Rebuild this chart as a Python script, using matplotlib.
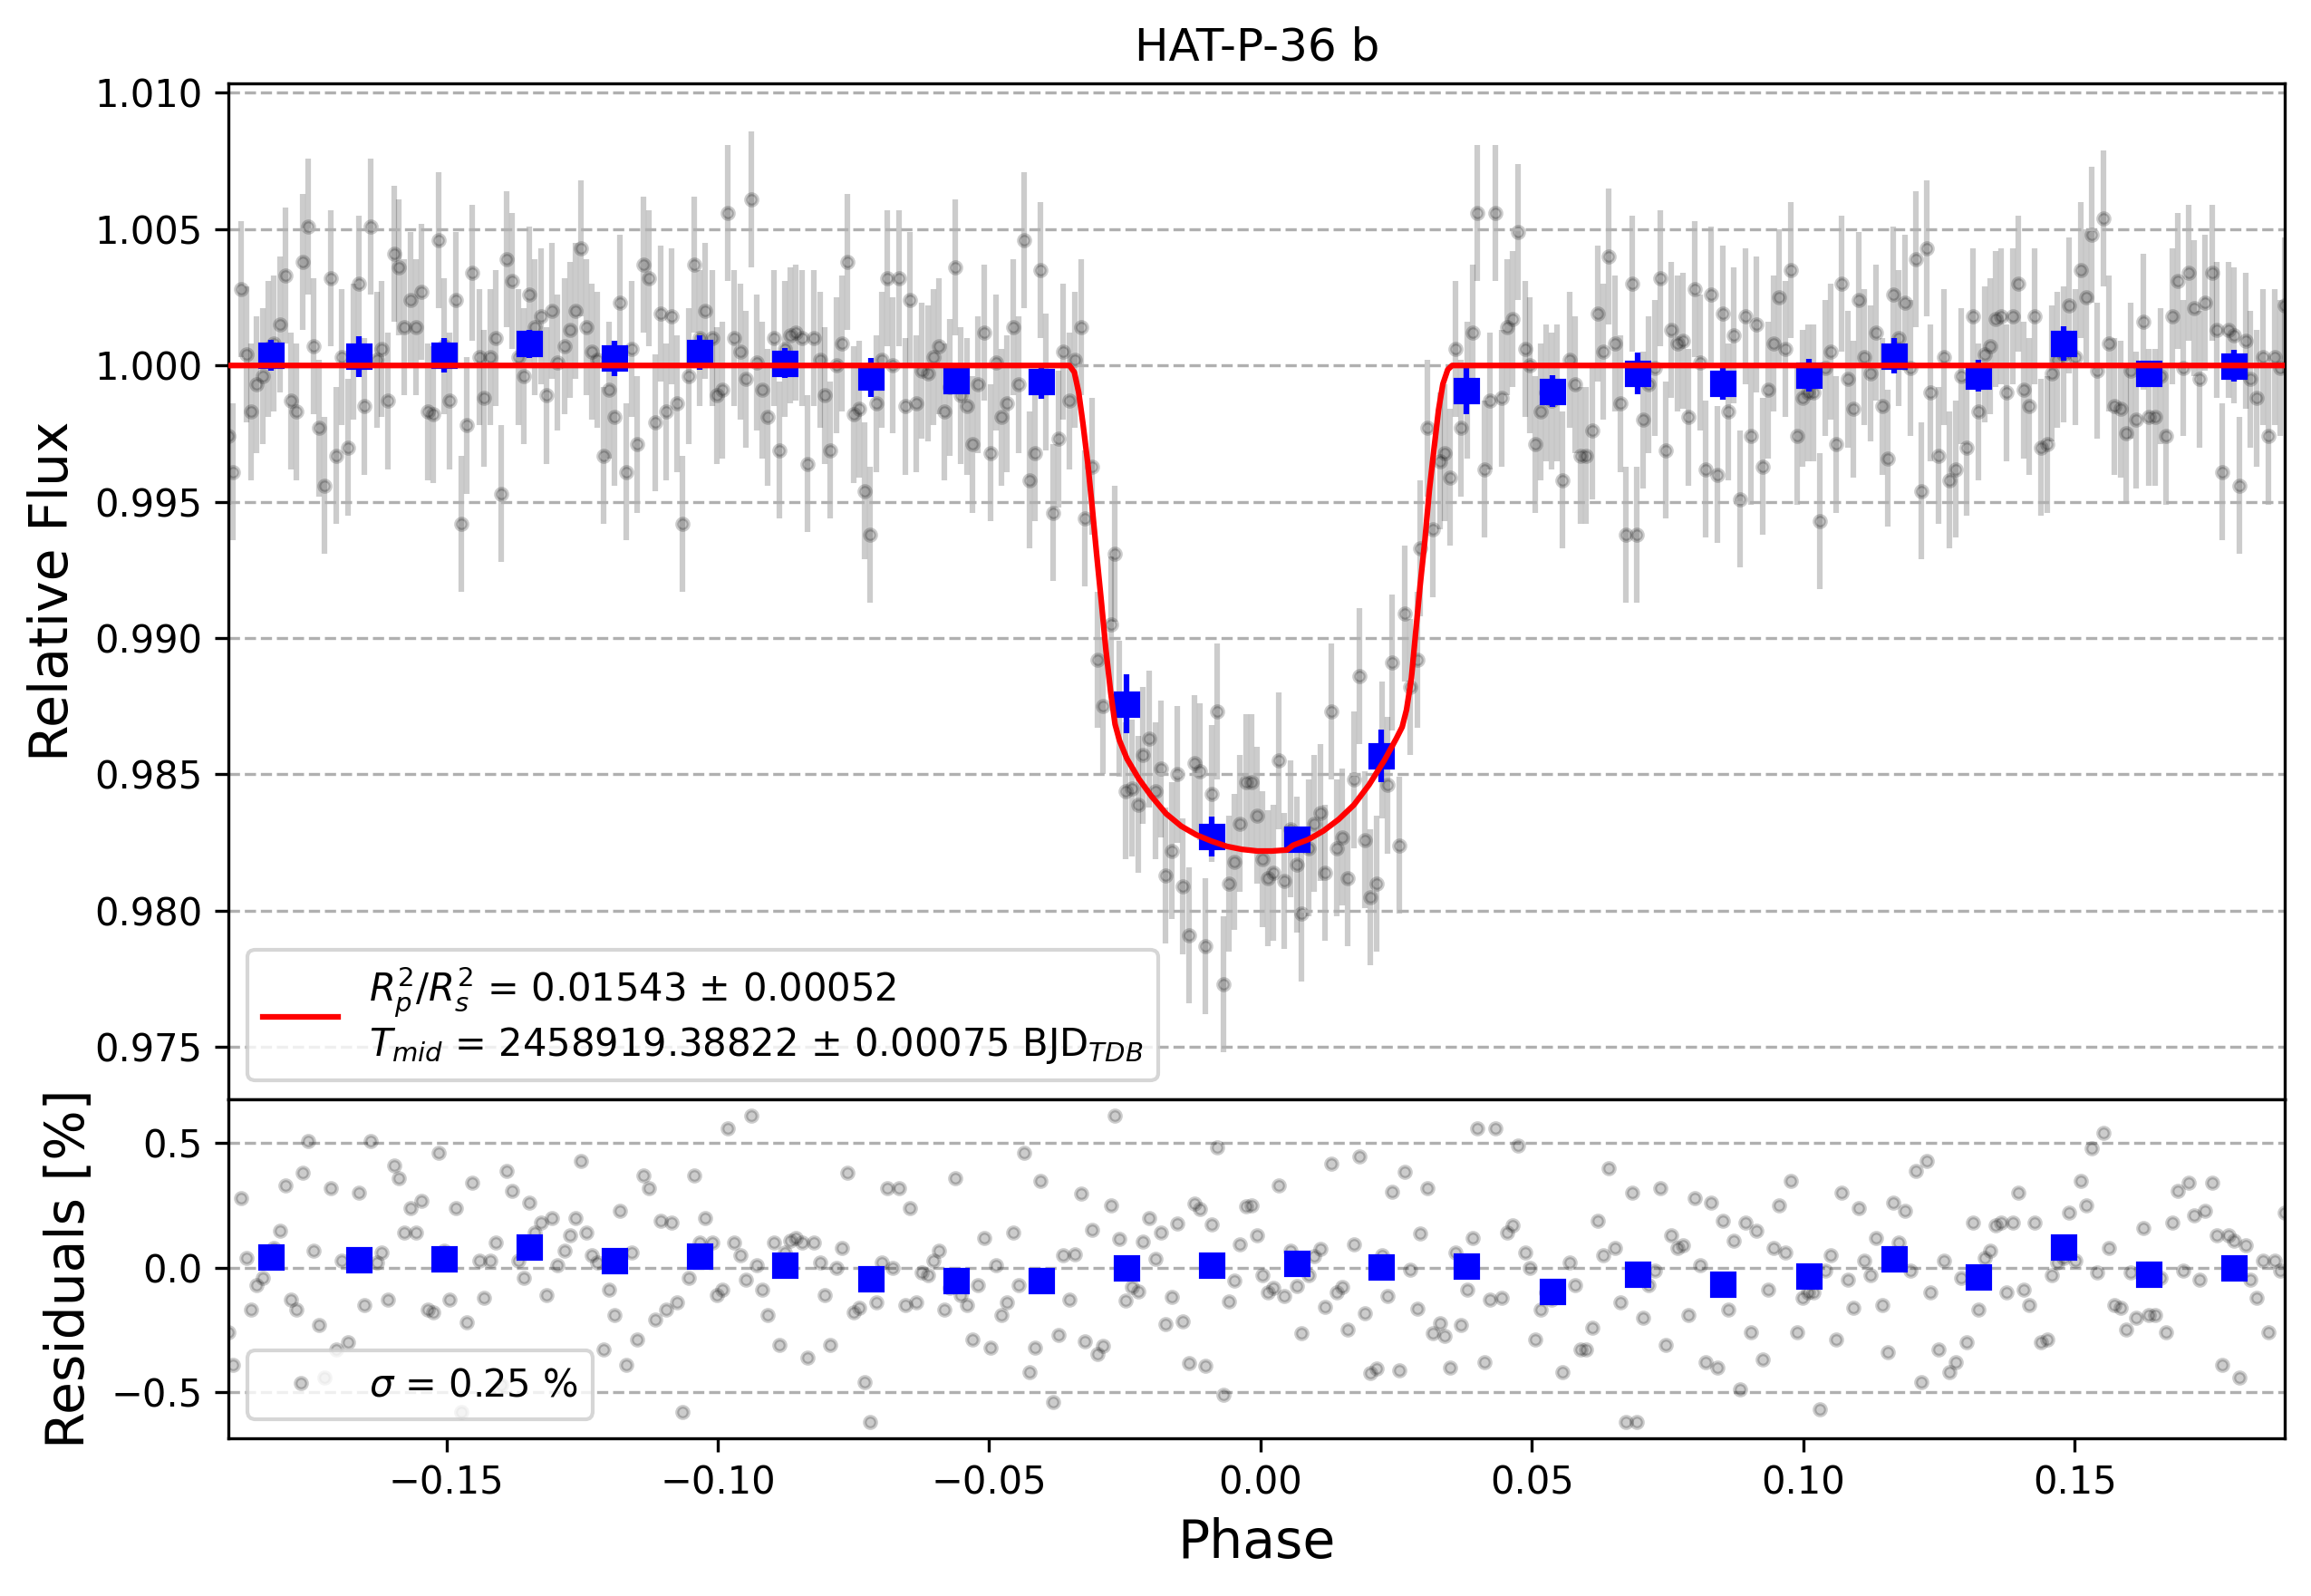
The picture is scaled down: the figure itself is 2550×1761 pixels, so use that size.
import numpy as np
import matplotlib
matplotlib.use('Agg')
import matplotlib.pyplot as plt

target = 'HAT-P-36 b'

# phase-folded light curve
phase = [
    -0.1901, -0.1893, -0.1879, -0.1869, -0.1860, -0.1850, -0.1838, -0.1829, -0.1819, -0.1807,
    -0.1797, -0.1786, -0.1776, -0.1765, -0.1755, -0.1744, -0.1734, -0.1724, -0.1713, -0.1703,
    -0.1693, -0.1681, -0.1672, -0.1662, -0.1651, -0.1639, -0.1628, -0.1619, -0.1608, -0.1597,
    -0.1588, -0.1577, -0.1566, -0.1556, -0.1546, -0.1535, -0.1524, -0.1514, -0.1505, -0.1495,
    -0.1482, -0.1472, -0.1462, -0.1452, -0.1440, -0.1431, -0.1419, -0.1409, -0.1399, -0.1389,
    -0.1379, -0.1368, -0.1357, -0.1347, -0.1337, -0.1326, -0.1315, -0.1305, -0.1295, -0.1283,
    -0.1273, -0.1263, -0.1252, -0.1242, -0.1232, -0.1222, -0.1210, -0.1200, -0.1190, -0.1180,
    -0.1168, -0.1158, -0.1148, -0.1137, -0.1127,
    -0.1116, -0.1106, -0.1095, -0.1085, -0.1075, -0.1065, -0.1053, -0.1043, -0.1034, -0.1023,
    -0.1010, -0.1002, -0.0991, -0.0981, -0.0970, -0.0959, -0.0949, -0.0939, -0.0928, -0.0918,
    -0.0908, -0.0896, -0.0886, -0.0876, -0.0867, -0.0856, -0.0845, -0.0835, -0.0823, -0.0812,
    -0.0803, -0.0793, -0.0782, -0.0771, -0.0761, -0.0750, -0.0739, -0.0729, -0.0719, -0.0708,
    -0.0697, -0.0687, -0.0677, -0.0666, -0.0655, -0.0646, -0.0634, -0.0625, -0.0613, -0.0603,
    -0.0593, -0.0583, -0.0572, -0.0562, -0.0552, -0.0540, -0.0530, -0.0520, -0.0509, -0.0498,
    -0.0488, -0.0478, -0.0468, -0.0456, -0.0446, -0.0436, -0.0426, -0.0415, -0.0405, -0.0395,
    -0.0383, -0.0373, -0.0363, -0.0352, -0.0342,
    -0.0331, -0.0324, -0.0310, -0.0300, -0.0290, -0.0276, -0.0269, -0.0260, -0.0249, -0.0237,
    -0.0225, -0.0217, -0.0205, -0.0194, -0.0183, -0.0175, -0.0163, -0.0154, -0.0143, -0.0132,
    -0.0122, -0.0112, -0.0101, -0.0090, -0.0080, -0.0069, -0.0059, -0.0048, -0.0038, -0.0027,
    -0.0016, -0.0006, 0.0003, 0.0013, 0.0024, 0.0034, 0.0044,
    0.0055, 0.0067, 0.0076, 0.0088, 0.0098, 0.0110, 0.0118, 0.0130, 0.0141, 0.0151,
    0.0161, 0.0172, 0.0182, 0.0193, 0.0203, 0.0214, 0.0224, 0.0234, 0.0243, 0.0255,
    0.0265, 0.0276, 0.0289, 0.0294, 0.0307, 0.0318, 0.0331, 0.0340, 0.0349, 0.0360,
    0.0370, 0.0381, 0.0391, 0.0400, 0.0413, 0.0423, 0.0433, 0.0444, 0.0454,
    0.0464, 0.0474, 0.0487, 0.0496, 0.0506, 0.0516, 0.0527, 0.0537, 0.0547, 0.0557,
    0.0569, 0.0580, 0.0590, 0.0600, 0.0611, 0.0621, 0.0631, 0.0642, 0.0653, 0.0663,
    0.0673, 0.0684, 0.0694, 0.0705, 0.0715, 0.0727, 0.0736, 0.0747, 0.0757, 0.0768,
    0.0778, 0.0788, 0.0800, 0.0810, 0.0820, 0.0830, 0.0842, 0.0851, 0.0861, 0.0872,
    0.0884, 0.0893, 0.0904, 0.0914, 0.0925, 0.0935, 0.0945, 0.0955, 0.0967, 0.0977,
    0.0988, 0.0998, 0.1009, 0.1018, 0.1030, 0.1041, 0.1050, 0.1061, 0.1071, 0.1082,
    0.1092, 0.1103, 0.1113, 0.1124, 0.1134, 0.1145, 0.1156, 0.1166, 0.1176, 0.1187,
    0.1198, 0.1208, 0.1218, 0.1227, 0.1235,
    0.1250, 0.1260, 0.1270, 0.1281, 0.1291, 0.1301, 0.1312, 0.1323, 0.1334, 0.1344,
    0.1354, 0.1364, 0.1374, 0.1386, 0.1396, 0.1407, 0.1417, 0.1427, 0.1438, 0.1449,
    0.1458, 0.1468, 0.1480, 0.1490, 0.1501, 0.1512, 0.1521, 0.1532, 0.1542, 0.1553,
    0.1564, 0.1574, 0.1585, 0.1595, 0.1604, 0.1614, 0.1626, 0.1637, 0.1648, 0.1659,
    0.1669, 0.1680, 0.1690, 0.1700, 0.1710, 0.1720, 0.1730, 0.1741, 0.1753, 0.1762,
    0.1772, 0.1783, 0.1794, 0.1804, 0.1815, 0.1824, 0.1836, 0.1847, 0.1857, 0.1869,
    0.1878, 0.1887,
]

flux = [
    0.9974, 0.9961, 1.0028, 1.0004, 0.9983, 0.9993, 0.9996, 1.0006, 1.0008, 1.0015,
    1.0033, 0.9987, 0.9983, 1.0038, 1.0051, 1.0007, 0.9977, 0.9956, 1.0032, 0.9967,
    1.0003, 0.9970, 1.0005, 1.0030, 0.9985, 1.0051, 1.0002, 1.0006, 0.9987, 1.0041,
    1.0036, 1.0014, 1.0024, 1.0014, 1.0027, 0.9983, 0.9982, 1.0046, 1.0007, 0.9987,
    1.0024, 0.9942, 0.9978, 1.0034, 1.0003, 0.9988, 1.0003, 1.0010, 0.9953, 1.0039,
    1.0031, 1.0003, 0.9996, 1.0026, 1.0014, 1.0018, 0.9989, 1.0020, 1.0001, 1.0007,
    1.0013, 1.0020, 1.0043, 1.0014, 1.0005, 1.0002, 0.9967, 0.9991, 0.9981, 1.0023,
    0.9961, 1.0006, 0.9971, 1.0037, 1.0032,
    0.9979, 1.0019, 0.9983, 1.0018, 0.9986, 0.9942, 0.9996, 1.0037, 1.0010, 1.0020,
    1.0010, 0.9989, 0.9991, 1.0056, 1.0010, 1.0005, 0.9995, 1.0061, 1.0001, 0.9991,
    0.9981, 1.0010, 0.9969, 1.0006, 1.0011, 1.0012, 1.0010, 0.9964, 1.0010, 1.0002,
    0.9989, 0.9969, 1.0000, 1.0008, 1.0038, 0.9982, 0.9984, 0.9954, 0.9938, 0.9986,
    1.0002, 1.0032, 1.0000, 1.0032, 0.9985, 1.0024, 0.9986, 0.9998, 0.9997, 1.0003,
    1.0007, 0.9983, 0.9992, 1.0036, 0.9989, 0.9985, 0.9971, 0.9993, 1.0012, 0.9968,
    1.0001, 0.9981, 0.9986, 1.0014, 0.9993, 1.0046, 0.9958, 0.9968, 1.0035, 0.9994,
    0.9946, 0.9973, 1.0005, 0.9987, 1.0002,
    1.0014, 0.9944, 0.9963, 0.9892, 0.9875, 0.9905, 0.9931, 0.9874, 0.9844, 0.9845,
    0.9839, 0.9857, 0.9863, 0.9844, 0.9852, 0.9813, 0.9822, 0.9850, 0.9809, 0.9791,
    0.9854, 0.9851, 0.9787, 0.9843, 0.9873, 0.9773, 0.9810, 0.9818, 0.9832, 0.9847,
    0.9847, 0.9835, 0.9819, 0.9812, 0.9814, 0.9855, 0.9811,
    0.9830, 0.9817, 0.9799, 0.9823, 0.9832, 0.9836, 0.9814, 0.9873, 0.9823, 0.9827,
    0.9812, 0.9848, 0.9886, 0.9826, 0.9805, 0.9810, 0.9859, 0.9846, 0.9891, 0.9824,
    0.9909, 0.9882, 0.9892, 0.9933, 0.9977, 0.9940, 0.9965, 0.9968, 0.9959, 1.0006,
    0.9977, 0.9991, 1.0012, 1.0056, 0.9962, 0.9987, 1.0056, 0.9988, 1.0014,
    1.0017, 1.0049, 1.0006, 1.0000, 0.9971, 0.9983, 0.9990, 0.9987, 0.9990, 0.9958,
    1.0002, 0.9993, 0.9967, 0.9967, 0.9976, 1.0019, 1.0005, 1.0040, 1.0008, 0.9986,
    0.9938, 1.0030, 0.9938, 0.9980, 0.9993, 0.9999, 1.0032, 0.9969, 1.0013, 1.0008,
    1.0009, 0.9981, 1.0028, 1.0001, 0.9962, 1.0026, 0.9960, 1.0019, 0.9983, 1.0011,
    0.9951, 1.0018, 0.9974, 1.0015, 0.9963, 0.9991, 1.0008, 1.0025, 1.0006, 1.0035,
    0.9974, 0.9988, 0.9990, 0.9990, 0.9943, 0.9999, 1.0005, 0.9971, 1.0030, 0.9995,
    0.9984, 1.0024, 1.0003, 0.9997, 1.0012, 0.9985, 0.9966, 1.0026, 1.0010, 1.0023,
    0.9999, 1.0039, 0.9954, 1.0043, 0.9990,
    0.9967, 1.0003, 0.9958, 0.9962, 0.9996, 0.9970, 1.0018, 0.9983, 1.0004, 1.0007,
    1.0017, 1.0018, 0.9990, 1.0018, 1.0030, 0.9991, 0.9985, 1.0018, 0.9970, 0.9971,
    0.9997, 1.0002, 1.0004, 1.0022, 1.0003, 1.0035, 1.0025, 1.0048, 0.9998, 1.0054,
    1.0008, 0.9985, 0.9984, 0.9975, 0.9998, 0.9980, 1.0016, 0.9981, 0.9981, 0.9996,
    0.9974, 1.0018, 1.0031, 0.9999, 1.0034, 1.0021, 0.9995, 1.0023, 1.0034, 1.0013,
    0.9961, 1.0013, 1.0011, 0.9956, 1.0009, 0.9995, 0.9988, 1.0003, 0.9974, 1.0003,
    0.9999, 1.0022,
]
flux_err = 0.0025

# best-fit transit model
model_phase = [
    -0.1901, -0.0352, -0.0343, -0.0335, -0.0327, -0.0318, -0.0310, -0.0302, -0.0293, -0.0285,
    -0.0276, -0.0268, -0.0260, -0.0246, -0.0224, -0.0201, -0.0174, -0.0146, -0.0118, -0.0090,
    -0.0062, -0.0034, -0.0006, 0.0021, 0.0049, 0.0060, 0.0088, 0.0116, 0.0144, 0.0172,
    0.0200, 0.0228, 0.0250, 0.0261, 0.0269, 0.0278, 0.0286, 0.0294, 0.0303, 0.0311,
    0.0320, 0.0328, 0.0336, 0.0345, 0.0353, 0.1887,
]
model_flux = [
    1.0, 1.0, 0.99975, 0.99901, 0.99784, 0.99636, 0.99477, 0.99308, 0.99128, 0.98959,
    0.98800, 0.98684, 0.98625, 0.98557, 0.98483, 0.98420, 0.98356, 0.98310, 0.98278, 0.98255,
    0.98236, 0.98225, 0.98219, 0.98219, 0.98223, 0.98240, 0.98261, 0.98293, 0.98335, 0.98388,
    0.98462, 0.98551, 0.98631, 0.98674, 0.98737, 0.98853, 0.99023, 0.99192, 0.99361, 0.99541,
    0.99700, 0.99837, 0.99932, 0.99985, 1.0, 1.0,
]

# binned points
bin_phase = [
    -0.1823, -0.1661, -0.1504, -0.1348, -0.1190, -0.1034, -0.0877, -0.0718, -0.0561, -0.0404,
    -0.0247, -0.0090, 0.0067, 0.0223, 0.0380, 0.0538, 0.0695, 0.0852, 0.1010, 0.1167,
    0.1323, 0.1480, 0.1637, 0.1794,
]
bin_flux = [
    1.00038, 1.00033, 1.00037, 1.00079, 1.00026, 1.00047, 1.00009, 0.99956, 0.99944, 0.99940,
    0.98758, 0.98272, 0.98261, 0.98568, 0.99907, 0.99906, 0.99970, 0.99933, 0.99965, 1.00035,
    0.99962, 1.00081, 0.99971, 0.99999,
]
bin_err = [
    0.00057, 0.00074, 0.00064, 0.00050, 0.00064, 0.00064, 0.00055, 0.00072, 0.00045, 0.00062,
    0.00108, 0.00072, 0.00040, 0.00097, 0.00085, 0.00058, 0.00077, 0.00060, 0.00059, 0.00064,
    0.00058, 0.00062, 0.00048, 0.00057,
]
bin_resid = [
    0.043, 0.033, 0.036, 0.082, 0.029, 0.047, 0.011, -0.043, -0.051, -0.051,
    0.000, 0.011, 0.018, 0.004, 0.007, -0.094, -0.025, -0.065, -0.033, 0.036,
    -0.036, 0.082, -0.025, 0.000,
]

fit_label = (r'$R^{2}_{p}/R^{2}_{s}$ = 0.01543 $\pm$ 0.00052' + '\n' +
             r'$T_{mid}$ = 2458919.38822 $\pm$ 0.00075 BJD$_{TDB}$')
sigma_label = r'$\sigma$ = 0.25 %'

phase = np.array(phase)
flux = np.array(flux)
# residuals in percent
resid = (flux - np.interp(phase, model_phase, model_flux)) * 1e2

fig = plt.figure(figsize=(8.5, 5.87), dpi=300)
ax_lc = fig.add_axes([0.0990, 0.3110, 0.8896, 0.6368])
ax_res = fig.add_axes([0.0990, 0.0990, 0.8896, 0.2120], sharex=ax_lc)

# light curve
ax_lc.errorbar(phase, flux, yerr=flux_err, ls='none', marker='.', color='black', alpha=0.2, zorder=1)
ax_lc.errorbar(bin_phase, bin_flux, yerr=bin_err, ls='none', marker='s', color='blue', zorder=2)
ax_lc.plot(model_phase, model_flux, 'r-', zorder=3, label=fit_label)
ax_lc.set_xlim(phase.min(), phase.max())
ax_lc.set_ylim(0.97307, 1.01035)
ax_lc.set_ylabel('Relative Flux', fontsize=14)
ax_lc.set_title(target)
ax_lc.grid(True, ls='--', axis='y')
ax_lc.tick_params(axis='x', bottom=False, labelbottom=False)
ax_lc.legend(loc='lower left')

# residuals
ax_res.plot(phase, resid, 'k.', alpha=0.2, label=sigma_label)
ax_res.plot(bin_phase, bin_resid, 's', color='blue', zorder=3)
ax_res.set_ylim(-0.684, 0.675)
ax_res.set_ylabel('Residuals [%]', fontsize=14)
ax_res.set_xlabel('Phase', fontsize=14)
ax_res.grid(True, ls='--', axis='y')
ax_res.legend(loc='lower left')

fig.savefig('out.png', dpi=300)
